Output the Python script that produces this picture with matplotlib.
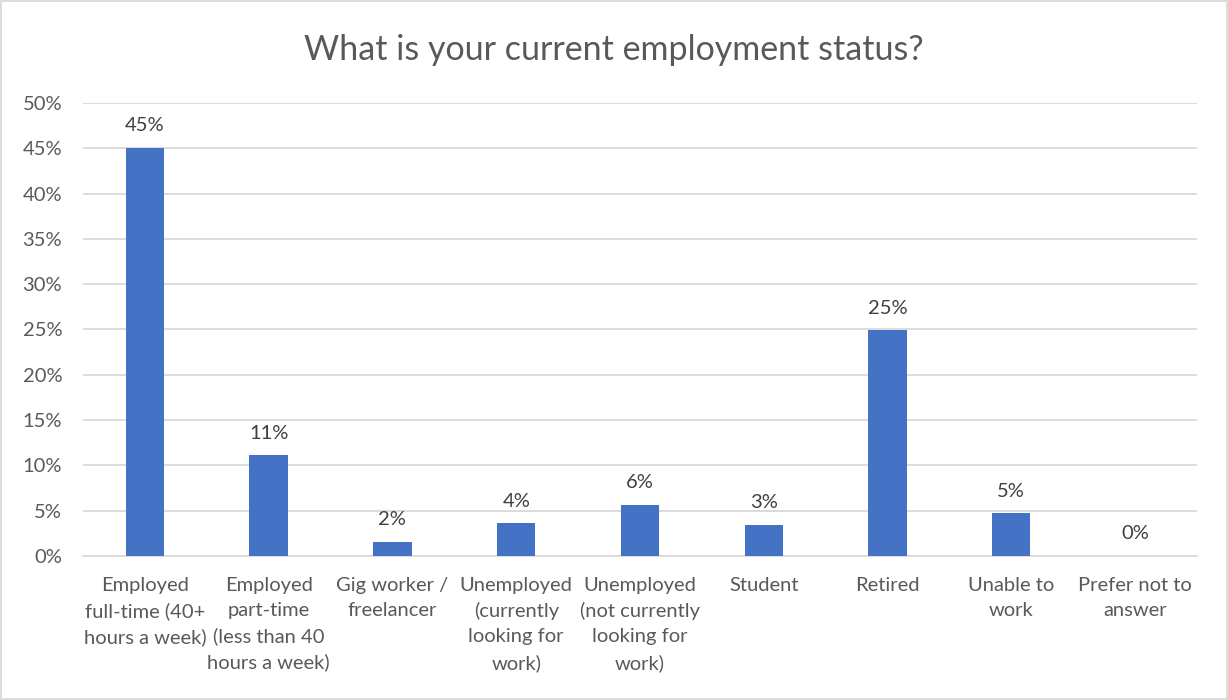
import matplotlib.pyplot as plt
from matplotlib.patches import Rectangle
from matplotlib.ticker import PercentFormatter

categories = [
    "Employed\nfull-time (40+\nhours a week)",
    "Employed\npart-time\n(less than 40\nhours a week)",
    "Gig worker /\nfreelancer",
    "Unemployed\n(currently\nlooking for\nwork)",
    "Unemployed\n(not currently\nlooking for\nwork)",
    "Student",
    "Retired",
    "Unable to\nwork",
    "Prefer not to\nanswer",
]
shares = [0.450, 0.111, 0.016, 0.036, 0.056, 0.034, 0.249, 0.047, 0.0]
y_ticks = [0.0, 0.05, 0.10, 0.15, 0.20, 0.25, 0.30, 0.35, 0.40, 0.45, 0.50]
title = "What is your current employment status?"

plt.rcParams["font.family"] = ["Lato", "DejaVu Sans"]
text_color = "#595959"
bar_color = "#4472C4"
grid_color = "#D9D9D9"

fig = plt.figure(figsize=(12.28, 7.0), dpi=100)
ax = fig.add_axes([0.0676, 0.2057, 0.9071, 0.6472])

x = list(range(len(categories)))
bars = ax.bar(x, shares, width=0.31, color=bar_color, zorder=3)

for rect, v in zip(bars, shares):
    ax.annotate(f"{v:.0%}", (rect.get_x() + rect.get_width() / 2, v),
                xytext=(0, 10), textcoords="offset points",
                ha="center", va="bottom", fontsize=14.5, color="#404040")

ax.set_xlim(-0.5, len(categories) - 0.5)
ax.set_ylim(0, 0.50)
ax.set_yticks(y_ticks)
ax.yaxis.set_major_formatter(PercentFormatter(1.0, decimals=0))
ax.grid(axis="y", color=grid_color, linewidth=1.3, zorder=0)
ax.set_axisbelow(True)

ax.set_xticks(x)
ax.set_xticklabels(categories, fontsize=14.5, color=text_color, linespacing=1.57,
                   va="top")
ax.tick_params(axis="x", length=0, pad=15)
ax.tick_params(axis="y", length=0, pad=15, labelsize=14.5, labelcolor=text_color)

for side in ("top", "right", "left"):
    ax.spines[side].set_visible(False)
ax.spines["bottom"].set_color(grid_color)
ax.spines["bottom"].set_linewidth(1.3)

fig.text(0.5, 0.928, title, ha="center", va="center", fontsize=24.5,
         color=text_color)

fig.patches.append(Rectangle((0.001, 0.0015), 0.998, 0.997,
                             transform=fig.transFigure, fill=False,
                             edgecolor=grid_color, linewidth=1.3))

fig.savefig("out.png", dpi=100, facecolor="white")
